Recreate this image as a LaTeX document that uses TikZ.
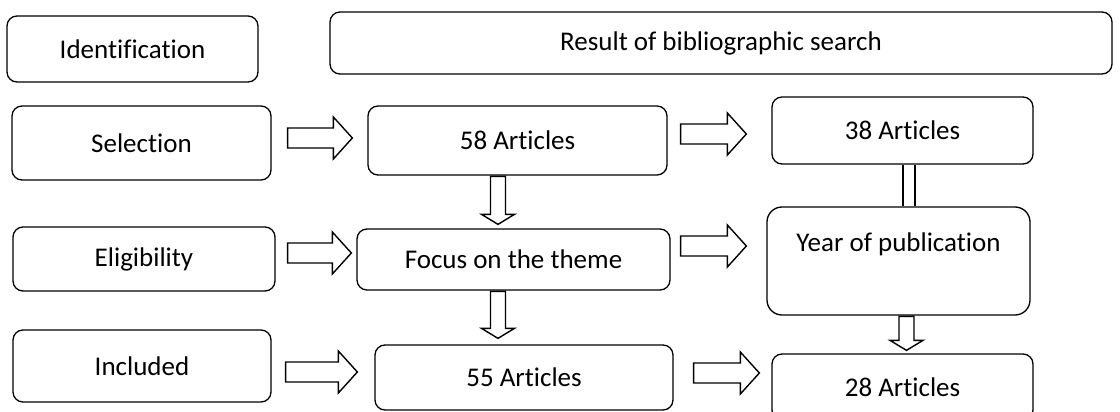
\documentclass[tikz,border=0pt]{standalone}
\usepackage{fontspec}
\setmainfont{Carlito}[Ligatures=NoCommon]
\usetikzlibrary{calc}
\begin{document}
\begin{tikzpicture}[x=1pt, y=-1pt,
  box/.style={draw, line width=1.3pt, rounded corners=10pt, inner sep=0pt, align=center, font=\fontsize{27}{33}\selectfont},
  harrow/.style={draw, fill=white, line width=1.4pt, to path={let \p1=(\tikztostart), \p2=(\tikztotarget) in
    (\x1,\y1+10pt) -- (\x2-19pt,\y1+10pt) -- (\x2-19pt,\y1+21pt) -- (\x2,\y1)
    -- (\x2-19pt,\y1-21pt) -- (\x2-19pt,\y1-10pt) -- (\x1,\y1-10pt) -- cycle}},
  varrow/.style={draw, fill=white, line width=1.4pt, to path={let \p1=(\tikztostart), \p2=(\tikztotarget) in
    (\x1-7.5pt,\y1) -- (\x1-7.5pt,\y2+10pt) -- (\x1-16.5pt,\y2+10pt) -- (\x1,\y2)
    -- (\x1+16.5pt,\y2+10pt) -- (\x1+7.5pt,\y2+10pt) -- (\x1+7.5pt,\y1) -- cycle}},
  pipe/.style={double, double distance=10.6pt, line width=1.4pt}
]
\useasboundingbox (0,0) rectangle (1120,412);
\clip (0,0) rectangle (1120,412);
\node[box, minimum width=251, minimum height=66] (ident) at (132.5,49) {Identification};
\node[box, minimum width=782, minimum height=62] (result) at (721,43) {Result of bibliographic search};
\node[box, minimum width=259, minimum height=74] (sel) at (141.5,143) {Selection};
\node[box, minimum width=299, minimum height=69] (a58) at (517.5,140.5) {58 Articles};
\node[box, minimum width=261, minimum height=67] (a38) at (902.5,130.5) {38 Articles};
\node[box, minimum width=262, minimum height=64] (elig) at (144,259) {Eligibility};
\node[box, minimum width=313, minimum height=61] (focus) at (513.5,259.5) {Focus on the theme};
\node[box, minimum width=263, minimum height=108, rounded corners=15pt] (year) at (898.5,261) {Year of publication\\[4pt] \mbox{}};
\node[box, minimum width=258, minimum height=72] (incl) at (142,366) {Included};
\node[box, minimum width=298, minimum height=65] (a55) at (524,377.5) {55 Articles};
\node[box, minimum width=261, minimum height=66] (a28) at (902.5,387) {28 Articles};
\draw[harrow] ([xshift=16pt,yshift=5pt]sel.east) to ([xshift=-15pt]a58.west);
\draw[harrow] ([xshift=13pt,yshift=6.5pt]a58.east) to ([xshift=-25pt]a38.west);
\draw[harrow] ([xshift=12pt,yshift=6pt]elig.east) to ([xshift=-5pt]focus.west);
\draw[harrow] ([xshift=10pt,yshift=13.5pt]focus.east) to ([xshift=-20pt]year.west);
\draw[harrow] ([xshift=14pt,yshift=-6pt]incl.east) to ([xshift=-17pt]a55.west);
\draw[harrow] ([xshift=20pt,yshift=4.5pt]a55.east) to ([xshift=-12pt]a28.west);
\draw[varrow] ([xshift=-19.5pt,yshift=-0.7pt]a58.south) to ([yshift=4pt]a58.south |- focus.north);
\draw[varrow] ([xshift=-15.5pt,yshift=-0.7pt]focus.south) to ([yshift=6pt]focus.south |- a55.north);
\draw[varrow] ([xshift=8pt,yshift=-0.7pt]year.south) to ([yshift=3pt]year.south |- a28.north);
\draw[pipe, shorten <=0.7pt, shorten >=0.7pt] ([xshift=6.5pt]a38.south) -- ([xshift=6.5pt]a38.south |- year.north);
\end{tikzpicture}
\end{document}
